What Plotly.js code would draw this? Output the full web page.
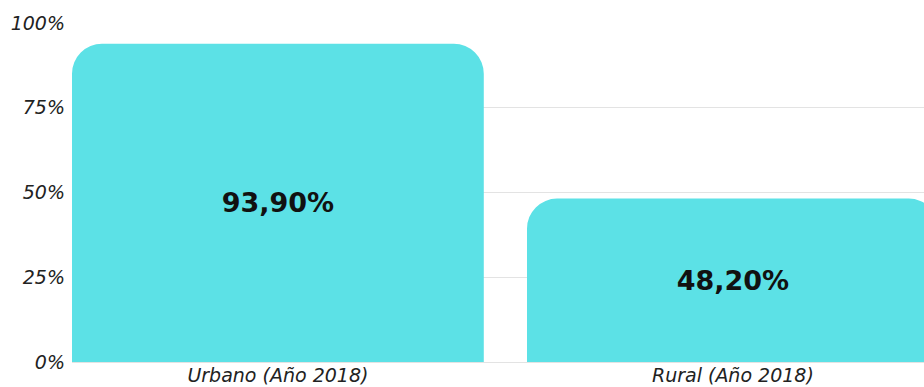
<!DOCTYPE html>
<html>
<head>
<meta charset="utf-8">
<script src="https://cdn.plot.ly/plotly-3.0.1.min.js"></script>
<style>html,body{margin:0;padding:0;background:#fff;}#chart{width:924px;height:387px;}</style>
</head>
<body>
<div id="chart"></div>
<script>
var categories = ["Urbano (Año 2018)", "Rural (Año 2018)"];
var values = [93.9, 48.2];
var yTickVals = [0, 25, 50, 75, 100];
var yTickText = ["0%", "25%", "50%", "75%", "100%"];

var trace = {
  type: 'bar',
  x: [0, 1],
  y: values,
  width: 0.905,
  marker: {color: '#5CE1E6', cornerradius: 30},
  texttemplate: '%{y:.2f}%',
  textposition: 'inside',
  insidetextanchor: 'middle',
  textangle: 0,
  textfont: {family: 'DejaVu Sans, sans-serif', size: 27, color: '#111111', weight: 700},
  hoverinfo: 'none'
};

var layout = {
  width: 924, height: 387,
  separators: ',.',
  margin: {l: 72, r: 0, t: 23, b: 25},
  paper_bgcolor: '#ffffff',
  plot_bgcolor: '#ffffff',
  showlegend: false,
  xaxis: {
    range: [-0.4525, 1.42],
    tickvals: [0, 1],
    ticktext: categories,
    showgrid: false,
    zeroline: false,
    showline: false,
    ticks: '',
    ticklen: 0,
    tickfont: {family: 'DejaVu Sans, sans-serif', size: 19, color: '#222222', style: 'italic'},
    fixedrange: true
  },
  yaxis: {
    range: [0, 100],
    tickvals: yTickVals,
    ticktext: yTickText,
    showgrid: true,
    gridcolor: '#e3e3e3',
    gridwidth: 1,
    zeroline: true,
    zerolinecolor: '#e3e3e3',
    showline: false,
    ticks: '',
    ticklabelstandoff: 6,
    tickfont: {family: 'DejaVu Sans, sans-serif', size: 19, color: '#222222', style: 'italic'},
    fixedrange: true
  }
};

Plotly.newPlot('chart', [trace], layout, {staticPlot: true, displayModeBar: false});
</script>
</body>
</html>
